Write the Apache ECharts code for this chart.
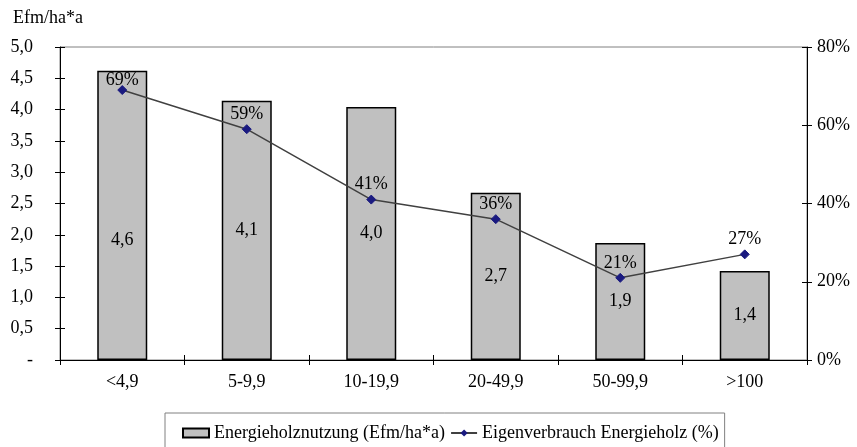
<!DOCTYPE html>
<html>
<head>
<meta charset="utf-8">
<script src="https://cdn.jsdelivr.net/npm/echarts@6/dist/echarts.min.js"></script>
<style>
  html, body { margin: 0; padding: 0; background: #fff; }
  #chart { width: 857px; height: 447px; }
</style>
</head>
<body>
<div id="chart"></div>
<script>
// Betriebsgrößenklassen (ha)
const categories = ['<4,9', '5-9,9', '10-19,9', '20-49,9', '50-99,9', '>100'];
// Energieholznutzung in Efm je ha und Jahr
const energyUse = [4.62, 4.14, 4.04, 2.67, 1.87, 1.42];
// Anteil Eigenverbrauch am Energieholz (%)
const ownUse = [69, 59, 41, 36, 21, 27];
// Achsenbeschriftungen
const leftTicks = [0, 0.5, 1, 1.5, 2, 2.5, 3, 3.5, 4, 4.5, 5];
const rightTicks = [0, 20, 40, 60, 80];

const FONT = '"Liberation Serif", "Times New Roman", serif';
const FS = 18;
const comma = v => v.toFixed(1).replace('.', ',');
const tickStyle = { color: '#000', width: 1 };

const chart = echarts.init(document.getElementById('chart'), null, { renderer: 'canvas' });

// bar value labels sit in the middle of the bar; the first one is nudged below the line
const barData = energyUse.map((v, i) => i === 0
  ? { value: v, label: { offset: [0, 25] } }
  : v);
// percentage labels sit above the markers; the first one is pulled down under the frame
const lineData = ownUse.map((v, i) => i === 0
  ? { value: v, label: { distance: -4 } }
  : v);

chart.setOption({
  animation: false,
  backgroundColor: '#ffffff',
  textStyle: { fontFamily: FONT, color: '#000' },
  title: {
    text: 'Efm/ha*a',
    left: 8,
    top: 4,
    textStyle: { fontFamily: FONT, fontSize: FS, fontWeight: 'normal', color: '#000' }
  },
  grid: {
    left: 60, right: 50, top: 47, bottom: 87,
    show: true, borderColor: '#808080', borderWidth: 1, backgroundColor: 'transparent'
  },
  legend: {
    left: 165,
    top: 413,
    padding: [11, 6, 12, 17],
    itemGap: 5,
    itemWidth: 26,
    itemHeight: 9,
    borderColor: '#808080',
    borderWidth: 1,
    borderRadius: 0,
    textStyle: { fontFamily: FONT, fontSize: FS, color: '#000' },
    data: [
      { name: 'Energieholznutzung (Efm/ha*a)', icon: 'rect' },
      { name: 'Eigenverbrauch Energieholz (%)' }
    ]
  },
  xAxis: [
    {
      type: 'category',
      data: categories,
      boundaryGap: true,
      axisLine: { lineStyle: { color: '#000', width: 1 } },
      axisTick: { show: true, length: 5, lineStyle: tickStyle },
      axisLabel: { fontFamily: FONT, fontSize: FS, color: '#000', margin: 13 }
    },
    {
      // inner half of the category ticks
      type: 'category',
      data: categories,
      position: 'bottom',
      boundaryGap: true,
      axisLine: { show: false },
      axisTick: { show: true, inside: true, length: 5, lineStyle: tickStyle },
      axisLabel: { show: false }
    }
  ],
  yAxis: [
    {
      type: 'value',
      min: 0, max: 5, interval: 0.5,
      axisLine: { show: true, lineStyle: { color: '#000' } },
      axisTick: { show: true, length: 5, lineStyle: tickStyle },
      splitLine: { show: false },
      axisLabel: {
        fontFamily: FONT, fontSize: FS, color: '#000', margin: 27,
        formatter: v => leftTicks.indexOf(v) < 0 ? '' : (v === 0 ? '-' : comma(v))
      }
    },
    {
      type: 'value',
      min: 0, max: 80, interval: 20,
      position: 'right',
      axisLine: { show: true, lineStyle: { color: '#000' } },
      axisTick: { show: true, length: 5, lineStyle: tickStyle },
      splitLine: { show: false },
      axisLabel: {
        fontFamily: FONT, fontSize: FS, color: '#000', margin: 10,
        formatter: v => rightTicks.indexOf(v) < 0 ? '' : v + '%'
      }
    },
    {
      // inner half of the left ticks
      type: 'value',
      min: 0, max: 5, interval: 0.5,
      position: 'left',
      axisLine: { show: false },
      axisTick: { show: true, inside: true, length: 5, lineStyle: tickStyle },
      splitLine: { show: false },
      axisLabel: { show: false }
    },
    {
      // inner half of the right ticks
      type: 'value',
      min: 0, max: 80, interval: 20,
      position: 'right',
      axisLine: { show: false },
      axisTick: { show: true, inside: true, length: 5, lineStyle: tickStyle },
      splitLine: { show: false },
      axisLabel: { show: false }
    }
  ],
  series: [
    {
      name: 'Energieholznutzung (Efm/ha*a)',
      type: 'bar',
      yAxisIndex: 0,
      data: barData,
      barWidth: 50,
      itemStyle: { color: '#c0c0c0', borderColor: '#000', borderWidth: 1.5 },
      label: {
        show: true,
        position: 'inside',
        fontFamily: FONT, fontSize: FS, color: '#000',
        formatter: p => comma(p.value)
      },
      z: 2
    },
    {
      name: 'Eigenverbrauch Energieholz (%)',
      type: 'line',
      yAxisIndex: 1,
      data: lineData,
      symbol: 'diamond',
      symbolSize: 9,
      lineStyle: { color: '#404040', width: 1.5 },
      itemStyle: { color: '#1a1a80', borderColor: '#1a1a80' },
      label: {
        show: true,
        position: 'top',
        distance: 1,
        fontFamily: FONT, fontSize: FS, color: '#000',
        formatter: p => p.value + '%'
      },
      z: 3
    }
  ]
});
</script>
</body>
</html>
